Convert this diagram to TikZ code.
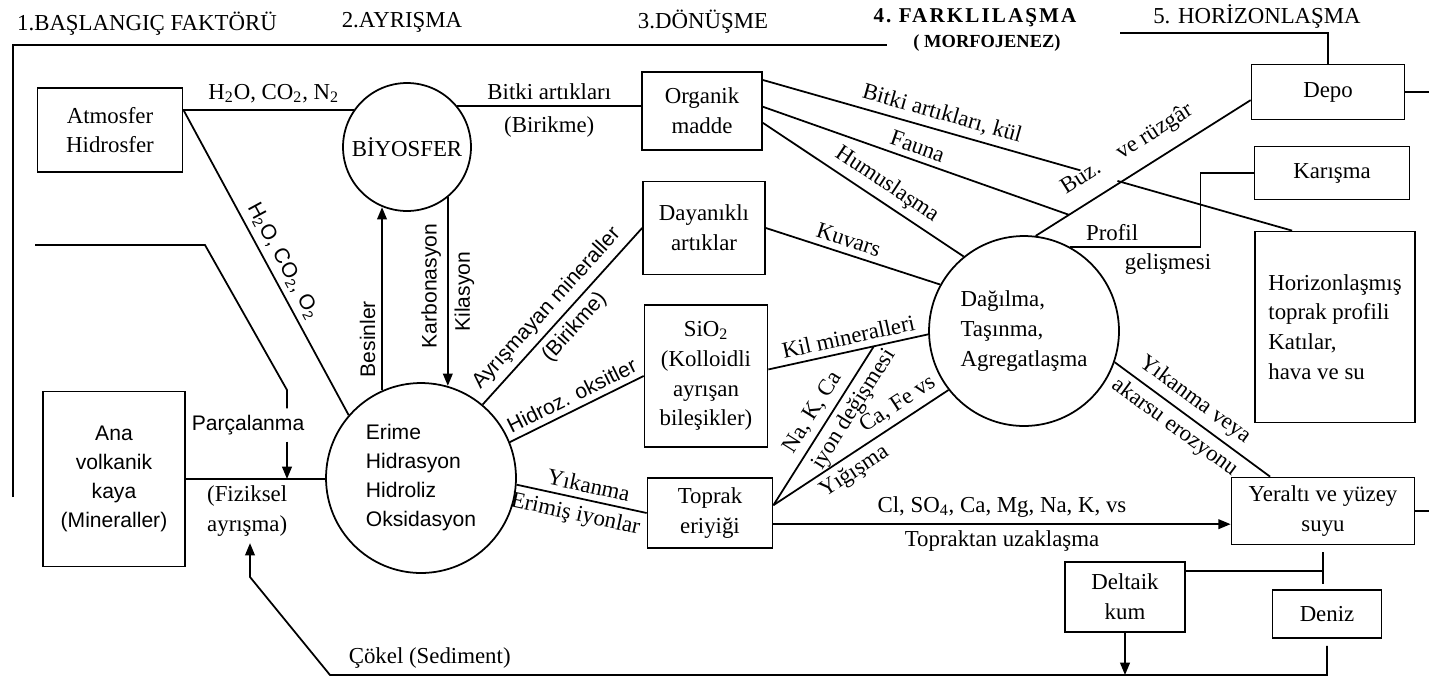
\documentclass[tikz,border=0pt]{standalone}
\usepackage{fontspec}
\setmainfont{Liberation Serif}
\setsansfont{Liberation Sans}
\newfontfamily\widebf[LetterSpace=10]{Liberation Serif}
\usepackage{tikz}
\usetikzlibrary{arrows.meta}

\tikzset{
  box/.style={draw,line width=1pt,align=center,inner sep=1pt},
  circ/.style={circle,draw,line width=1pt,align=left,inner sep=1pt},
  sanstxt/.style={font=\sffamily\fontsize{12}{16.5}\selectfont},
  headbold/.style={font=\widebf\bfseries\fontsize{12}{14}\selectfont},
}

\begin{document}
\begin{tikzpicture}[x=0.02cm,y=-0.02cm,>={Triangle[length=7pt,width=5.5pt]},line width=1pt,
  font=\fontsize{13}{17}\selectfont]
\useasboundingbox (0,0) rectangle (1429,690);

\node (h1) at (147,24) {1.BAŞLANGIÇ FAKTÖRÜ};
\node (h2) at (402,22) {2.AYRIŞMA};
\node (h3) at (703,22) {3.DÖNÜŞME};
\node[headbold] (h4) at (975,18) {4.\ FARKLILAŞMA};
\node[font=\bfseries\fontsize{10.5}{12}\selectfont] (h4b) at (987,43) {( MORFOJENEZ)};
\node (h5) at (1257,17) {5. HORİZONLAŞMA};

\node[box,minimum width=2.9cm,minimum height=1.68cm] (atmo) at (110,130) {Atmosfer\\Hidrosfer};
\node[circ,minimum size=2.56cm] (biyo) at (407,147) {BİYOSFER};
\node[box,minimum width=2.4cm,minimum height=1.56cm] (organik) at (702,111) {Organik\\madde};
\node[box,minimum width=2.44cm,minimum height=1.86cm] (dayanikli) at (704,228) {Dayanıklı\\artıklar};
\node[box,minimum width=2.46cm,minimum height=2.84cm] (sio) at (706,376) {SiO\textsubscript{2}\\(Kolloidli\\ayrışan\\bileşikler)};
\node[box,minimum width=2.5cm,minimum height=1.4cm] (toprak) at (710,513) {Toprak\\eriyiği};
\node[circ,minimum size=3.8cm,sanstxt] (erime) at (421,478) {Erime\\Hidrasyon\\Hidroliz\\Oksidasyon};
\node[box,minimum width=2.84cm,minimum height=3.5cm,sanstxt] (ana) at (114,479) {Ana\\volkanik\\kaya\\(Mineraller)};
\node[circ,minimum size=3.8cm] (dagilma) at (1024,331) {Dağılma,\\Taşınma,\\Agregatlaşma};
\node[box,minimum width=3.06cm,minimum height=1.1cm] (depo) at (1328,92) {Depo};
\node[box,minimum width=3.1cm,minimum height=1.06cm] (karisma) at (1332,173) {Karışma};
\node[box,minimum width=3.2cm,minimum height=3.82cm,align=left] (horizon) at (1335,327) {Horizonlaşmış\\toprak profili\\Katılar,\\hava ve su};
\node[box,minimum width=3.66cm,minimum height=1.34cm] (yeralti) at (1323,511) {Yeraltı ve yüzey\\suyu};
\node[box,minimum width=2.4cm,minimum height=1.4cm] (deltaik) at (1125,597) {Deltaik\\kum};
\node[box,minimum width=2.18cm,minimum height=0.96cm] (deniz) at (1327,614) {Deniz};

\coordinate (frBL) at (13,497);
\coordinate (frTL) at (13,45);
\coordinate (frTM) at (887,45);
\coordinate (frTR) at (1120,33);
\draw (frBL) -- (frTL) -- (frTM);
\draw (frTR) -| (depo.north);
\draw (depo.east) -- ++(30,0);
\draw (yeralti.east) -- ++(20,0);

\coordinate (atmout) at (atmo.east |- biyo.145);
\draw (atmout) -- node[above,pos=.53] {H\textsubscript{2}O, CO\textsubscript{2}, N\textsubscript{2}} (biyo.145);
\draw (atmout) -- node[sloped,above,pos=.52,sanstxt] {H\textsubscript{2}O, CO\textsubscript{2}, O\textsubscript{2}} (erime.139);
\draw (biyo.39) -- node[above] {Bitki artıkları} node[below=2pt] {(Birikme)} (organik.west |- biyo.39);
\draw[->] (erime.114) -- node[sloped,above,pos=.28,sanstxt] {Besinler} (erime.114 |- biyo.248);
\draw[<-] (biyo.-51 |- erime.74) -- node[sloped,above,pos=.53,sanstxt] {Karbonasyon} node[sloped,below,pos=.5,sanstxt] {Kilasyon} (biyo.-51);

\coordinate (prcA) at (35,245);
\coordinate (prcB) at (205,245);
\coordinate (prcC) at (287,390);
\node[sanstxt] (parca) at (248,425) {Parçalanma};
\draw (prcA) -- (prcB) -- (prcC) -- (parca.north -| prcC);
\draw[->] (parca.south -| prcC) -- (prcC |- ana.east);
\draw (ana.east) -- node[below,pos=.44,align=center] (fiz) {(Fiziksel\\ayrışma)} (ana.east -| erime.west);

\coordinate (sedL) at (330,675);
\coordinate (sedU) at (250,577);
\draw[->,shorten <=4pt] (deniz.south) -- (deniz.south |- sedL) -- node[above,pos=.9] {Çökel (Sediment)} (sedL) -- (sedU) -- (fiz.south -| sedU);
\draw[->] (deltaik.south) -- (deltaik.south |- sedL);
\draw[shorten <=4pt,shorten >=3pt] (yeralti.south) -- (yeralti.south |- deniz.north);
\draw (deltaik.23) -- (deltaik.23 -| yeralti.south);

\draw (erime.50) -- node[sloped,above,pos=.48,sanstxt] {Ayrışmayan mineraller} node[sloped,below,pos=.5,sanstxt] {(Birikme)} (dayanikli.west);
\draw (erime.22) -- node[sloped,above,pos=.51,sanstxt] {Hidroz. oksitler} (sio.west);
\draw (erime.-4) -- node[sloped,above,pos=.53] {Yıkanma} node[sloped,below,pos=.48] {Erimiş iyonlar} (toprak.west);
\draw[->] (toprak.-10) -- node[above] {Cl, SO\textsubscript{4}, Ca, Mg, Na, K, vs} node[below] {Topraktan uzaklaşma} (toprak.-10 -| yeralti.west);

\draw (sio.6) -- node[sloped,above,pos=.52] {Kil mineralleri} coordinate[pos=.66] (kilx) (dagilma.182);
\draw (toprak.7) -- node[sloped,above,pos=.53] {Na, K, Ca} node[sloped,below,pos=.66] {iyon değişmesi} (kilx);
\draw (toprak.7) -- node[sloped,above,pos=.76] {Ca, Fe vs} node[sloped,below,pos=.41] {Yığışma} (dagilma.218);
\draw (dayanikli.east) -- node[sloped,above,pos=.45] {Kuvars} (dagilma.151);
\draw (organik.-11) -- node[sloped,above,pos=.57] {Humuslaşma} (dagilma.129);
\draw (dagilma.83) -- coordinate[pos=.155] (buzx) node[sloped,above=4pt,pos=.485] {Buz.\quad ve rüzgâr} (depo.186);
\draw (organik.4) -- node[sloped,above,pos=.49] {Fauna} (buzx);
\path (organik.27) -- coordinate[pos=.6] (bitA) coordinate[pos=.67] (bitB) (horizon.114);
\draw (organik.27) -- node[sloped,above,pos=.55] {Bitki artıkları, kül} (bitA);
\draw (bitB) -- (horizon.114);
\draw (dagilma.61) -- node[above,pos=.32] {Profil} node[below,pos=.75] {gelişmesi} ++(130,0) |- (karisma.west);
\draw (dagilma.-19) -- node[sloped,above,pos=.45] {Yıkanma veya} node[sloped,below,pos=.45] {akarsu erozyonu} (yeralti.147);
\end{tikzpicture}
\end{document}
